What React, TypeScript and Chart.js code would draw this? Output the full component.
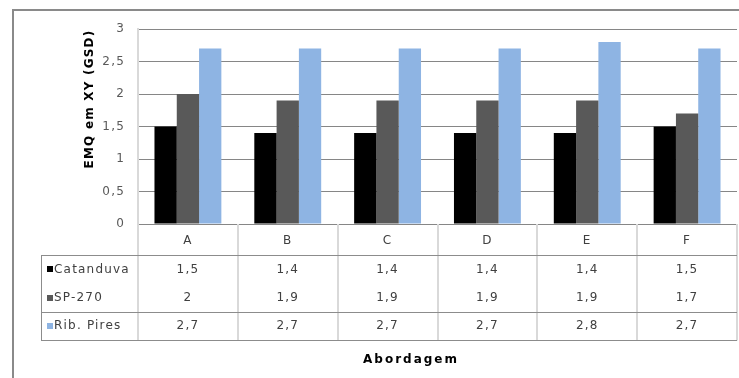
import React, { useEffect, useRef } from 'react';
import { Chart, registerables } from 'chart.js';

Chart.register(...registerables);

const categories = ['A', 'B', 'C', 'D', 'E', 'F'];
const seriesNames = ['Catanduva', 'SP-270', 'Rib. Pires'];
const catanduva = [1.5, 1.4, 1.4, 1.4, 1.4, 1.5];
const sp270 = [2, 1.9, 1.9, 1.9, 1.9, 1.7];
const ribPires = [2.7, 2.7, 2.7, 2.7, 2.8, 2.7];
const seriesColors = ['#000000', '#595959', '#8EB4E3'];
const yTickValues = [0, 0.5, 1, 1.5, 2, 2.5, 3];
const yTitle = 'EMQ em XY (GSD)';
const xTitle = 'Abordagem';

const FONT = '"DejaVu Sans", Verdana, sans-serif';
const ROW_H = 28.4;
const TICK_PAD = 2.8;
const LEGEND_LEFT = 41;

const fmt = (v: number) => String(v).replace('.', ',');

const seriesValues = [catanduva, sp270, ribPires];

const tablePlugin = {
  id: 'dataTable',
  beforeDraw(chart: any) {
    const ctx = chart.ctx;
    ctx.letterSpacing = '1.2px';
  },
  afterDraw(chart: any) {
    const ctx = chart.ctx as CanvasRenderingContext2D;
    const xs = chart.scales.x;
    const n = categories.length;
    const cw = xs.width / n;
    const top = xs.top;
    const lineY = (k: number) => Math.round(top + TICK_PAD + ROW_H * k) + 0.5;
    const rowY = (i: number) => top + TICK_PAD + ROW_H / 2 + i * ROW_H;
    const bottom = lineY(4);

    ctx.save();
    // outer frame
    ctx.fillStyle = '#8a8a8a';
    ctx.fillRect(12, 9, chart.width - 12, 2);
    ctx.fillRect(12, 9, 2, chart.height - 9);

    // vertical category separators
    ctx.strokeStyle = '#d9d9d9';
    ctx.lineWidth = 2;
    for (let i = 0; i <= n; i++) {
      const x = Math.round(xs.left + i * cw);
      ctx.beginPath();
      ctx.moveTo(x, top);
      ctx.lineTo(x, bottom);
      ctx.stroke();
    }

    // horizontal lines + legend column border
    ctx.strokeStyle = '#8c8c8c';
    ctx.lineWidth = 1;
    [1, 3, 4].forEach((k) => {
      const y = lineY(k);
      ctx.beginPath();
      ctx.moveTo(LEGEND_LEFT, y);
      ctx.lineTo(xs.right, y);
      ctx.stroke();
    });
    ctx.beginPath();
    ctx.moveTo(LEGEND_LEFT + 0.5, lineY(1));
    ctx.lineTo(LEGEND_LEFT + 0.5, bottom);
    ctx.stroke();

    // legend column
    ctx.font = `12px ${FONT}`;
    ctx.textBaseline = 'middle';
    ctx.textAlign = 'left';
    (ctx as any).letterSpacing = '1.2px';
    chart.data.datasets.forEach((ds: any, i: number) => {
      const y = rowY(i + 1);
      ctx.fillStyle = ds.backgroundColor;
      ctx.fillRect(LEGEND_LEFT + 6, Math.round(y) - 3, 6, 6);
      ctx.fillStyle = '#404040';
      ctx.fillText(ds.label, LEGEND_LEFT + 13, y);
    });

    // axis titles
    ctx.fillStyle = '#000000';
    ctx.font = `bold 12px ${FONT}`;
    ctx.textAlign = 'center';
    (ctx as any).letterSpacing = '2px';
    ctx.fillText(xTitle, 411, 360);

    ctx.translate(90, 99);
    ctx.rotate(-Math.PI / 2);
    (ctx as any).letterSpacing = '1.2px';
    ctx.fillText(yTitle, 0, 0);
    ctx.restore();
  },
};

export default function App() {
  const ref = useRef<HTMLCanvasElement | null>(null);

  useEffect(() => {
    document.body.style.margin = '0';
    const canvas = ref.current;
    if (!canvas) return;
    const labels = categories.map((c, i) => [c, ...seriesValues.map((s) => fmt(s[i]))]);
    const chart = new Chart(canvas, {
      type: 'bar',
      data: {
        labels,
        datasets: seriesNames.map((name, i) => ({
          label: name,
          data: seriesValues[i],
          backgroundColor: seriesColors[i],
          borderWidth: 0,
          categoryPercentage: 0.67,
          barPercentage: 1,
        })),
      },
      options: {
        animation: false,
        responsive: false,
        devicePixelRatio: 1,
        layout: { padding: { left: 98, top: 29, right: 2, bottom: 0 } },
        plugins: {
          legend: { display: false },
          tooltip: { enabled: false },
          title: { display: false },
        },
        scales: {
          x: {
            grid: { display: false, drawTicks: false },
            border: { display: false },
            ticks: {
              font: { family: FONT, size: 12, lineHeight: `${ROW_H}px` },
              color: '#404040',
              padding: TICK_PAD,
              maxRotation: 0,
              autoSkip: false,
            },
            afterFit: (s: any) => {
              s.height = 154;
            },
          },
          y: {
            min: 0,
            max: 3,
            afterBuildTicks: (s: any) => {
              s.ticks = yTickValues.map((v) => ({ value: v }));
            },
            ticks: {
              callback: (v: any) => fmt(Number(v)),
              padding: 13,
              font: { family: FONT, size: 12 },
              color: '#595959',
            },
            grid: { color: '#868686', drawTicks: false },
            border: { display: true, color: '#d9d9d9', width: 2 },
            afterFit: (s: any) => {
              s.width = 40;
            },
          },
        },
      },
      plugins: [tablePlugin],
    });
    return () => chart.destroy();
  }, []);

  return (
    <div style={{ width: 739, height: 378 }}>
      <canvas ref={ref} width={739} height={378} style={{ display: 'block' }} />
    </div>
  );
}
